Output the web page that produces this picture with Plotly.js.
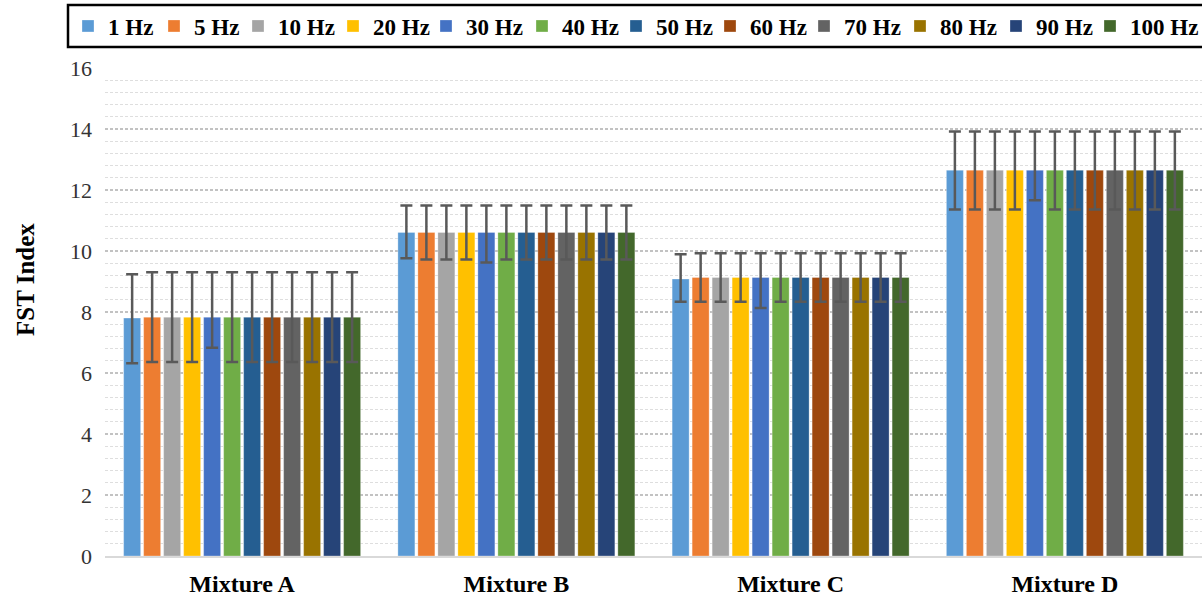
<!DOCTYPE html>
<html><head><meta charset="utf-8">
<script src="https://cdn.plot.ly/plotly-3.0.1.min.js"></script>
<style>html,body{margin:0;padding:0;background:#fff}#chart{width:1202px;height:599px}</style>
</head><body><div id="chart"></div>
<script>
const categories = ["Mixture A", "Mixture B", "Mixture C", "Mixture D"];
const seriesNames = ["1 Hz","5 Hz","10 Hz","20 Hz","30 Hz","40 Hz","50 Hz","60 Hz","70 Hz","80 Hz","90 Hz","100 Hz"];
const seriesColors = ["#5B9BD5","#ED7D31","#A5A5A5","#FFC000","#4472C4","#70AD47","#255E91","#9E480E","#636363","#997300","#264478","#43682B"];
// mean FST index per series (rows) and mixture (columns)
const values = [
  [7.80, 10.61, 9.08, 12.65],
  [7.83, 10.61, 9.13, 12.65],
  [7.83, 10.61, 9.13, 12.65],
  [7.83, 10.61, 9.13, 12.65],
  [7.83, 10.61, 9.13, 12.65],
  [7.83, 10.61, 9.13, 12.65],
  [7.83, 10.61, 9.13, 12.65],
  [7.83, 10.61, 9.13, 12.65],
  [7.83, 10.61, 9.13, 12.65],
  [7.83, 10.61, 9.13, 12.65],
  [7.83, 10.61, 9.13, 12.65],
  [7.83, 10.61, 9.13, 12.65]
];
const errorsPlus = [
  [1.44, 0.88, 0.81, 1.27],
  [1.47, 0.88, 0.80, 1.27],
  [1.47, 0.88, 0.80, 1.27],
  [1.47, 0.88, 0.80, 1.27],
  [1.47, 0.88, 0.80, 1.27],
  [1.47, 0.88, 0.80, 1.27],
  [1.47, 0.88, 0.80, 1.27],
  [1.47, 0.88, 0.80, 1.27],
  [1.47, 0.88, 0.80, 1.27],
  [1.47, 0.88, 0.80, 1.27],
  [1.47, 0.88, 0.80, 1.27],
  [1.47, 0.88, 0.80, 1.27]
];
const errorsMinus = [
  [1.48, 0.85, 0.74, 1.29],
  [1.47, 0.89, 0.79, 1.29],
  [1.47, 0.89, 0.79, 1.29],
  [1.47, 0.89, 0.79, 1.29],
  [1.00, 0.99, 1.00, 0.99],
  [1.47, 0.89, 0.79, 1.29],
  [1.47, 0.89, 0.79, 1.29],
  [1.47, 0.89, 0.79, 1.29],
  [1.47, 0.89, 0.79, 1.29],
  [1.47, 0.89, 0.79, 1.29],
  [1.47, 0.89, 0.79, 1.29],
  [1.47, 0.89, 0.79, 1.29]
];
const yTicks = [0, 2, 4, 6, 8, 10, 12, 14, 16];
const yTitle = "FST Index";

// layout: pixel x of each legend swatch in the top key
const legendSwatchPx = [89, 175, 259, 354, 447, 543, 637, 731, 825, 921, 1017, 1111];

const serif = "Liberation Serif, Times New Roman, serif";
const minorVals = [];
for (let k = 1; k < 40; k++) { if (k % 5 !== 0) minorVals.push(Math.round(k * 0.4 * 10) / 10); }

const legendIds = seriesNames.map((_, i) => i === 0 ? "legend" : "legend" + (i + 1));

const traces = seriesNames.map((name, i) => ({
  type: "bar",
  name: name,
  legend: legendIds[i],
  x: categories,
  y: values[i],
  marker: {color: seriesColors[i], line: {color: "rgba(255,255,255,0.6)", width: 0.5}},
  error_y: {type: "data", symmetric: false, array: errorsPlus[i], arrayminus: errorsMinus[i],
            color: "#595959", thickness: 2.5, width: 6}
}));

const W = 1202, H = 599, mL = 105, mR = 0, mT = 68, mB = 43;
const pw = W - mL - mR, ph = H - mT - mB;
const px2x = p => (p - mL) / pw;
const py2y = p => (H - mB - p) / ph;

const legendFont = {family: serif, size: 23, color: "#000", weight: "bold"};
const legendBase = {orientation: "h", xanchor: "left", y: py2y(26), yanchor: "middle",
  borderwidth: 0, bgcolor: "rgba(0,0,0,0)", font: legendFont,
  itemwidth: 30, entrywidth: 90, entrywidthmode: "pixels", tracegroupgap: 0};

const layout = {
  width: W, height: H,
  margin: {l: mL, r: mR, t: mT, b: mB, autoexpand: false},
  paper_bgcolor: "#fff", plot_bgcolor: "#fff",
  barmode: "group", bargap: 0.125, bargroupgap: 0.15,
  font: {family: serif, color: "#000", size: 17},
  showlegend: true,
  shapes: [{type: "rect", xref: "paper", yref: "paper", x0: px2x(68), x1: px2x(1215),
            y0: py2y(47), y1: py2y(5), line: {color: "#000", width: 2.5}, fillcolor: "rgba(0,0,0,0)", layer: "above"}],
  annotations: [{text: yTitle, xref: "paper", yref: "paper", x: px2x(25), y: py2y(280),
                 xanchor: "center", yanchor: "middle", textangle: -90, showarrow: false,
                 font: {family: serif, size: 25, weight: "bold", color: "#000"}}],
  xaxis: {tickfont: {family: serif, size: 24, weight: "bold"}, showline: true, linecolor: "#d9d9d9",
          linewidth: 1.5, ticks: "", showgrid: false, zeroline: false, ticklabelstandoff: 6},
  yaxis: {range: [0, 16], tickvals: yTicks, ticktext: yTicks.map(String),
          tickfont: {family: serif, size: 22, color: "#333"}, ticks: "",
          showgrid: true, gridcolor: "#c2c2c2", gridwidth: 1.2, griddash: "3px,2px",
          minor: {tickvals: minorVals, showgrid: true, gridcolor: "#dedede", gridwidth: 1, griddash: "3px,2px"},
          zeroline: false, showline: false, ticklabelstandoff: 12}
};
legendIds.forEach((id, i) => {
  layout[id] = Object.assign({}, legendBase, {x: px2x(legendSwatchPx[i] - 21)});
});
Plotly.newPlot("chart", traces, layout, {displayModeBar: false, staticPlot: true});
</script></body></html>
